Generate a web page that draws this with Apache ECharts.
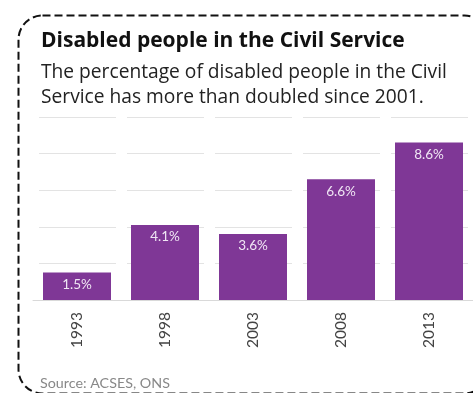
<!DOCTYPE html>
<html><head><meta charset="utf-8">
<script src="https://cdn.jsdelivr.net/npm/echarts@6/dist/echarts.min.js"></script>
<style>html,body{margin:0;padding:0;background:#fff}#c{width:473px;height:393px}</style>
</head><body><div id="c"></div>
<script>
const years = ['1993','1998','2003','2008','2013'];
const values = [1.5, 4.1, 3.6, 6.6, 8.6];
const titleText = 'Disabled people in the Civil Service';
const subtitleText = 'The percentage of disabled people in the Civil\nService has more than doubled since 2001.';
const sourceText = 'Source: ACSES, ONS';

const chart = echarts.init(document.getElementById('c'), null, {renderer:'canvas'});
const FONT = 'Lato';
const HFONT = 'Open Sans';
chart.setOption({
  animation:false,
  title:[
    {text:titleText, left:36, top:26, textStyle:{fontFamily:HFONT, fontWeight:'bold', fontSize:21, color:'#111'}},
    {text:subtitleText, left:36, top:55, textStyle:{fontFamily:HFONT, fontWeight:'normal', fontSize:19.2, lineHeight:25, color:'#222'}},
    {text:sourceText, left:35, top:371, textStyle:{fontFamily:FONT, fontWeight:'normal', fontSize:14.3, color:'#888'}}
  ],
  graphic:[{type:'rect', left:16, top:13, shape:{width:470, height:378, r:24}, style:{fill:'none', stroke:'#111', lineWidth:2, lineDash:[8,4]}, z:-1}],
  grid:{left:33, right:0, top:117, bottom:93},
  xAxis:{type:'category', data:years,
    axisLine:{lineStyle:{color:'#d9d9d9'}}, axisTick:{show:false},
    axisLabel:{rotate:90, fontFamily:FONT, fontSize:15.5, color:'#444', margin:12},
    splitLine:{show:true, lineStyle:{color:'#fff', width:11}}, z:3},
  yAxis:{type:'value', min:0, max:10, interval:2, axisLabel:{show:false}, axisLine:{show:false}, axisTick:{show:false},
    splitLine:{lineStyle:{color:'#e3e3e3', width:1}}},
  series:[{type:'bar', data:values, barWidth:68, itemStyle:{color:'#7f3796'}, z:5,
    label:{show:true, position:'insideTop', distance:5, formatter:p=>p.value.toFixed(1)+'%', fontFamily:FONT, fontSize:13.5, color:'#f0e6f4'}}]
});
</script></body></html>
